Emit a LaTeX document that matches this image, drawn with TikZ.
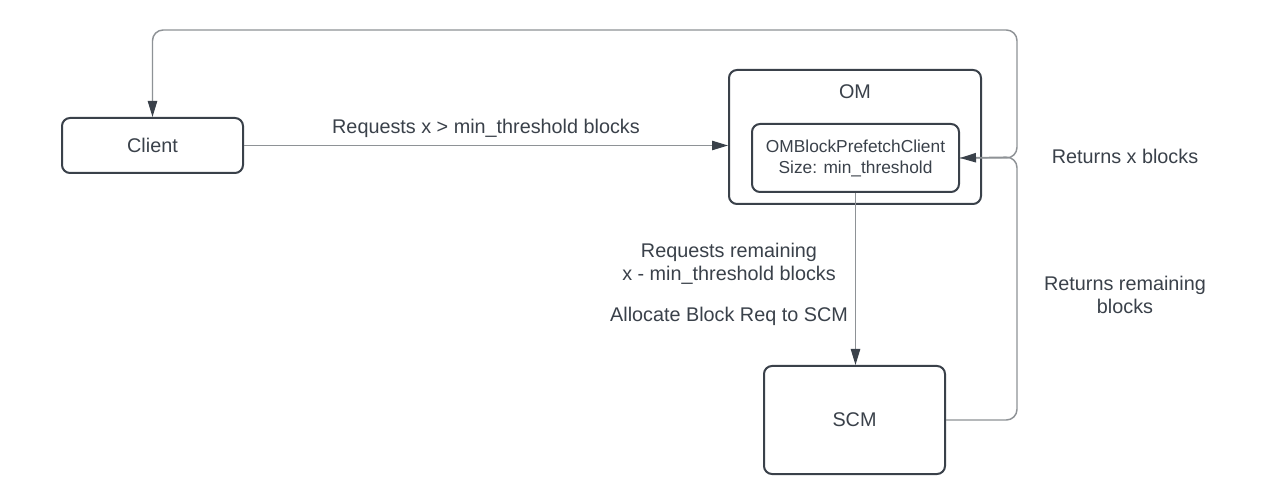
\documentclass[tikz,border=0pt]{standalone}
\usepackage{fontspec}
\setmainfont{Liberation Sans}
\usetikzlibrary{arrows.meta}
\definecolor{ink}{HTML}{3A414A}
\definecolor{wire}{HTML}{8E9296}
\begin{document}
\begin{tikzpicture}[x=0.75pt,y=-0.75pt,
  box/.style={draw=ink, line width=1.5pt, rounded corners=6pt, text=ink, inner sep=0pt,
    font=\fontsize{14.85}{17.25}\selectfont, align=center},
  conn/.style={draw=wire, line width=1.1pt, -{Triangle[length=12pt,width=7pt,color=ink]}},
  wireline/.style={draw=wire, line width=1.1pt},
  lbl/.style={text=ink, inner sep=0pt, align=center, font=\fontsize{14.85}{17.25}\selectfont}
]
\useasboundingbox[fill=white] (0,0) rectangle (1266,498);

\node[box, minimum width=135.75pt, minimum height=41.25pt] (client) at (152.5,145.5) {Client};
\node[box, minimum width=189pt, minimum height=100.5pt] (om) at (855,137) {};
\node[lbl] (omlbl) at (855,92) {OM};
\node[box, minimum width=155.25pt, minimum height=51pt, font=\fontsize{13}{15.75}\selectfont] (inner) at (855.5,158)
  {OMBlockPrefetchClient\\Size: min\_threshold};
\node[box, minimum width=135.75pt, minimum height=81pt] (scm) at (854.5,420) {SCM};

\coordinate (j) at (1017,157);
\coordinate (tr) at (1017,30);

\draw[conn] (client.east) -- (client.east -| om.west);
\draw[conn, rounded corners=8] (inner.east) -| (tr) -| (client.north);
\draw[conn, rounded corners=8] (scm.east) -| (j) -- (inner.east);
\draw[conn] (inner.south) -- (inner.south |- scm.north);

\node[lbl] (l1) at (486,128) {Requests x > min\_threshold blocks};
\node[lbl] (l2) at (1125,156) {Returns x blocks};
\node[lbl] (l3) at (729,264) {Requests remaining\\x - min\_threshold blocks};
\node[lbl] (l4) at (729,316) {Allocate Block Req to SCM};
\node[lbl] (l5) at (1125,295) {Returns remaining\\blocks};
\end{tikzpicture}
\end{document}
